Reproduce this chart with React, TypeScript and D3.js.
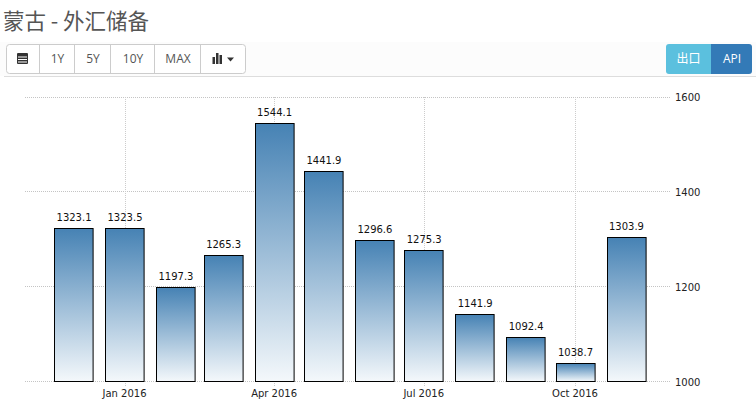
import React from "react";
import * as d3 from "d3";

const months = ["2015-12-01","2016-01-01","2016-02-01","2016-03-01","2016-04-01","2016-05-01","2016-06-01","2016-07-01","2016-08-01","2016-09-01","2016-10-01","2016-11-01"];
const values = [1323.1,1323.5,1197.3,1265.3,1544.1,1441.9,1296.6,1275.3,1141.9,1092.4,1038.7,1303.9];
const yTicks = [1000,1200,1400,1600];
const xTicks = ["2016-01-01","2016-04-01","2016-07-01","2016-10-01"];
const xTickLabels = ["Jan 2016","Apr 2016","Jul 2016","Oct 2016"];
const rangeButtons = ["1Y","5Y","10Y","MAX"];

const W = 756, H = 409;
const parse = (s: string) => d3.utcParse("%Y-%m-%d")(s) as Date;
const x = d3.scaleUtc().domain([parse("2016-01-01"), parse("2016-10-01")]).range([124.5, 575]);
const y = d3.scaleLinear().domain([1000, 1600]).range([381, 96.5]);
const BAR_W = 38.6;
const cjk = "'Noto Sans CJK SC','Open Sans',sans-serif";
const sans = "'Open Sans','Liberation Sans',sans-serif";
const axisFont = "'DejaVu Sans',sans-serif";

export default function App() {
  const btnEdges = [6, 40, 75, 111, 155, 201, 245];
  return (
    <svg width={W} height={H} viewBox={`0 0 ${W} ${H}`} style={{ position: "absolute", left: 0, top: 0, background: "#fff", display: "block" }}>
      <defs>
        <linearGradient id="barGrad" x1="0" y1="0" x2="0" y2="1">
          <stop offset="0" stopColor="#4682b4" />
          <stop offset="1" stopColor="#f4f8fb" />
        </linearGradient>
      </defs>

      <text x={3} y={29} fontFamily={cjk} fontSize={21.5} fill="#555">蒙古 - 外汇储备</text>

      <rect x={0} y={42} width={W} height={34} fill="#fcfcfc" />
      <line x1={4} x2={W} y1={76.5} y2={76.5} stroke="#ddd" />

      <rect x={6.5} y={44.5} width={239} height={29} rx={3} fill="#fff" stroke="#ccc" />
      {btnEdges.slice(1, -1).map((e) => (
        <line key={e} x1={e - 0.5} x2={e - 0.5} y1={45} y2={73} stroke="#ccc" />
      ))}
      {/* calendar icon */}
      <g fill="#333">
        <rect x={17} y={53} width={11} height={11} rx={1} />
        <rect x={18} y={56.5} width={9} height={1} fill="#fff" />
        <rect x={18} y={59} width={9} height={1} fill="#fff" />
        <rect x={18} y={61.5} width={9} height={1} fill="#fff" />
      </g>
      {rangeButtons.map((b, i) => (
        <text key={b} x={(btnEdges[i + 1] + btnEdges[i + 2]) / 2} y={63} textAnchor="middle" fontFamily={sans} fontSize={12} fill="#555">{b}</text>
      ))}
      {/* bar-chart icon */}
      <g fill="#333">
        <rect x={212.5} y={57} width={2.5} height={7} />
        <rect x={216} y={53} width={2.5} height={11} />
        <rect x={219.5} y={55} width={2.5} height={9} />
        <path d="M227 57.5h7l-3.5 4z" />
      </g>

      <path d="M711 44h-42a3 3 0 0 0-3 3v24a3 3 0 0 0 3 3h42z" fill="#5bc0de" />
      <path d="M711 44h38a3 3 0 0 1 3 3v24a3 3 0 0 1-3 3h-38z" fill="#337ab7" />
      <text x={688.5} y={63} textAnchor="middle" fontFamily={cjk} fontSize={12} fill="#fff">出口</text>
      <text x={732} y={63} textAnchor="middle" fontFamily={sans} fontSize={12} fill="#fff">API</text>

      {yTicks.map((t) => (
        <g key={t}>
          <line x1={25} x2={671} y1={Math.round(y(t)) + 0.5} y2={Math.round(y(t)) + 0.5} stroke="#c4c4c4" strokeDasharray="1 1" />
          <text x={675} y={y(t) + 4.5} fontFamily={axisFont} fontSize={10} fill="#222">{t}</text>
        </g>
      ))}
      {xTicks.map((t, i) => (
        <g key={t}>
          <line x1={Math.round(x(parse(t))) + 0.5} x2={Math.round(x(parse(t))) + 0.5} y1={97} y2={386} stroke="#ccc" strokeDasharray="1 1" />
          <text x={x(parse(t))} y={397} textAnchor="middle" fontFamily={axisFont} fontSize={10} fill="#222">{xTickLabels[i]}</text>
        </g>
      ))}

      {values.map((v, i) => {
        const cx = x(parse(months[i]));
        const top = y(v);
        return (
          <g key={months[i]}>
            <rect x={Math.round(cx - BAR_W / 2) + 0.5} y={Math.round(top) + 0.5} width={BAR_W} height={Math.round(y(1000)) - Math.round(top)} fill="url(#barGrad)" stroke="#000" strokeWidth={1} />
            <text x={cx + 0.5} y={top - 7} textAnchor="middle" fontFamily={axisFont} fontSize={10} fill="#111">{v.toFixed(1)}</text>
          </g>
        );
      })}
    </svg>
  );
}
